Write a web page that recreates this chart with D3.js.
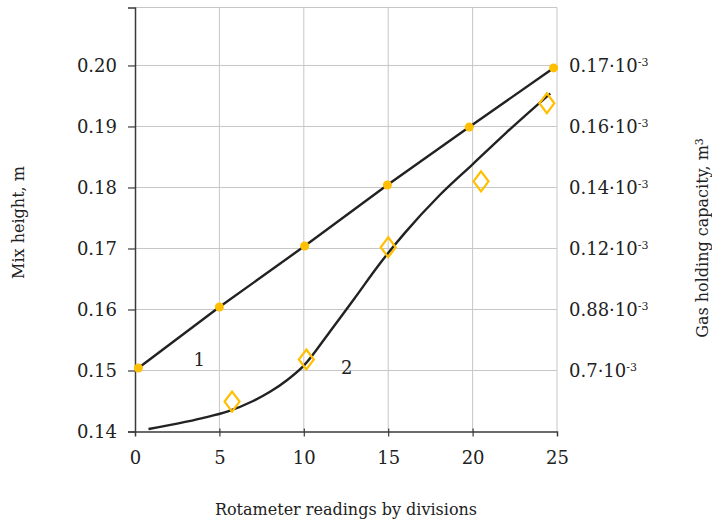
<!DOCTYPE html>
<html>
<head>
<meta charset="utf-8">
<script src="https://cdn.jsdelivr.net/npm/d3@7"></script>
<style>
  body { margin: 0; background: #fff; }
  text { font-family: "DejaVu Serif", serif; fill: #222; }
</style>
</head>
<body>
<div id="container"></div>
<script>
/* DATA */
const line1X = [0.2, 5.0, 10.05, 14.95, 19.8, 24.8];
const line1Y = [0.1504, 0.1604, 0.1704, 0.1804, 0.1899, 0.1996];

const diamondX = [5.75, 10.15, 15.0, 20.5, 24.4];
const diamondY = [0.1449, 0.1518, 0.1702, 0.1810, 0.1938];

const curve2X = [0.8, 2.5, 4.0, 5.5, 7.0, 8.0, 9.0, 10.0, 11.5, 13.0, 14.5, 16.0, 18.0, 20.0, 22.0, 24.6];
const curve2Y = [0.1404, 0.1413, 0.1422, 0.1433, 0.1450, 0.1465, 0.1484, 0.1508, 0.1562, 0.1618, 0.1675, 0.1726, 0.1786, 0.1838, 0.1890, 0.1954];

const xTicks = [0, 5, 10, 15, 20, 25];
const yTicks = [0.14, 0.15, 0.16, 0.17, 0.18, 0.19, 0.20];
const rightTickValues = [0.20, 0.19, 0.18, 0.17, 0.16, 0.15];
const rightTickLabels = ["0.17", "0.16", "0.14", "0.12", "0.88", "0.7"];

/* CONSTANTS */
const width = 712, height = 522;
const margin = { top: 7.5, right: 155, bottom: 90.5, left: 135 };
const innerW = width - margin.left - margin.right;
const innerH = height - margin.top - margin.bottom;
const gold = "#ffbf00";
const numSize = "18px", titleSize = "16px";

const svg = d3.select("#container")
  .append("svg")
  .attr("width", width)
  .attr("height", height);

const g = svg.append("g")
  .attr("transform", `translate(${margin.left},${margin.top})`);

// scales
const xScale = d3.scaleLinear().domain([0, 25]).range([0, innerW]);
const yScale = d3.scaleLinear().domain([0.14, 0.2095]).range([innerH, 0]);

// grid
g.append("g")
  .selectAll("line")
  .data(xTicks.slice(1))
  .enter().append("line")
  .attr("x1", d => xScale(d)).attr("x2", d => xScale(d))
  .attr("y1", 0).attr("y2", innerH)
  .attr("stroke", "#c6c6c6").attr("stroke-width", 1);

g.append("g")
  .selectAll("line")
  .data(yTicks.slice(1))
  .enter().append("line")
  .attr("x1", 0).attr("x2", innerW)
  .attr("y1", d => yScale(d)).attr("y2", d => yScale(d))
  .attr("stroke", "#c6c6c6").attr("stroke-width", 1);

// top border
g.append("line")
  .attr("x1", 0).attr("x2", innerW).attr("y1", 0).attr("y2", 0)
  .attr("stroke", "#c6c6c6");

// Y axis
const yAxis = g.append("g")
  .call(d3.axisLeft(yScale).tickValues(yTicks).tickFormat(d3.format(".2f")).tickSizeOuter(0).tickSize(7).tickPadding(11));
yAxis.select(".domain").attr("stroke", "#3a3a3a").attr("stroke-width", 1.5);
yAxis.selectAll(".tick line").attr("stroke", "#3a3a3a").attr("stroke-width", 1.2);
yAxis.selectAll("text").style("font-family", "DejaVu Serif").style("font-size", numSize).attr("fill", "#222");

// X axis
const xAxis = g.append("g")
  .attr("transform", `translate(0,${innerH})`)
  .call(d3.axisBottom(xScale).tickValues(xTicks).tickSizeOuter(0).tickSize(5).tickPadding(15));
xAxis.select(".domain").attr("stroke", "#3a3a3a").attr("stroke-width", 1.5);
xAxis.selectAll(".tick line").attr("stroke", "#3a3a3a").attr("stroke-width", 1.2).attr("y1", -3);
xAxis.selectAll(".tick").filter(d => d === 0 || d === 25).select("line").remove();
xAxis.selectAll("text").style("font-family", "DejaVu Serif").style("font-size", numSize).attr("fill", "#222");

// right axis labels
const rLab = g.append("g")
  .selectAll("text")
  .data(rightTickValues)
  .enter().append("text")
  .attr("x", innerW + 12)
  .attr("y", d => yScale(d))
  .attr("dy", "0.35em")
  .style("font-size", numSize);
rLab.append("tspan").text((d, i) => rightTickLabels[i] + "·10");
rLab.append("tspan").attr("dy", "-0.5em").style("font-size", "11px").text("-3");

// curve 2
const curveData = curve2X.map((x, i) => [x, curve2Y[i]]);
g.append("path")
  .datum(curveData)
  .attr("fill", "none")
  .attr("stroke", "#222")
  .attr("stroke-width", 2.4)
  .attr("d", d3.line().x(d => xScale(d[0])).y(d => yScale(d[1])).curve(d3.curveMonotoneX));

// line 1
const line1Data = line1X.map((x, i) => [x, line1Y[i]]);
g.append("path")
  .datum(line1Data)
  .attr("fill", "none")
  .attr("stroke", "#222")
  .attr("stroke-width", 2.4)
  .attr("d", d3.line().x(d => xScale(d[0])).y(d => yScale(d[1])));

g.selectAll(".dot")
  .data(line1Data)
  .enter().append("circle")
  .attr("cx", d => xScale(d[0]))
  .attr("cy", d => yScale(d[1]))
  .attr("r", 4.5)
  .attr("fill", gold);

// diamonds
const diamondData = diamondX.map((x, i) => [x, diamondY[i]]);
g.selectAll(".diamond")
  .data(diamondData)
  .enter().append("path")
  .attr("transform", d => `translate(${xScale(d[0])},${yScale(d[1])})`)
  .attr("d", "M0,-10 L7.5,0 L0,10 L-7.5,0 Z")
  .attr("fill", "none")
  .attr("stroke", gold)
  .attr("stroke-width", 2.2);

// curve labels
g.append("text").attr("x", xScale(3.8)).attr("y", yScale(0.1517)).attr("text-anchor", "middle")
  .attr("dy", "0.35em").style("font-size", numSize).text("1");
g.append("text").attr("x", xScale(12.55)).attr("y", yScale(0.1505)).attr("text-anchor", "middle")
  .attr("dy", "0.35em").style("font-size", numSize).text("2");

// axis titles
svg.append("text")
  .attr("transform", `translate(24,${margin.top + innerH / 2 + 3}) rotate(-90)`)
  .attr("text-anchor", "middle")
  .style("font-size", titleSize)
  .text("Mix height, m");

svg.append("text")
  .attr("x", 346).attr("y", 515)
  .attr("text-anchor", "middle")
  .style("font-size", titleSize)
  .text("Rotameter readings by divisions");

const rt = svg.append("text")
  .attr("transform", `translate(708,238) rotate(-90)`)
  .attr("text-anchor", "middle")
  .style("font-size", titleSize);
rt.append("tspan").text("Gas holding capacity, m");
rt.append("tspan").attr("dy", "-0.5em").style("font-size", "11px").text("3");
</script>
</body>
</html>
